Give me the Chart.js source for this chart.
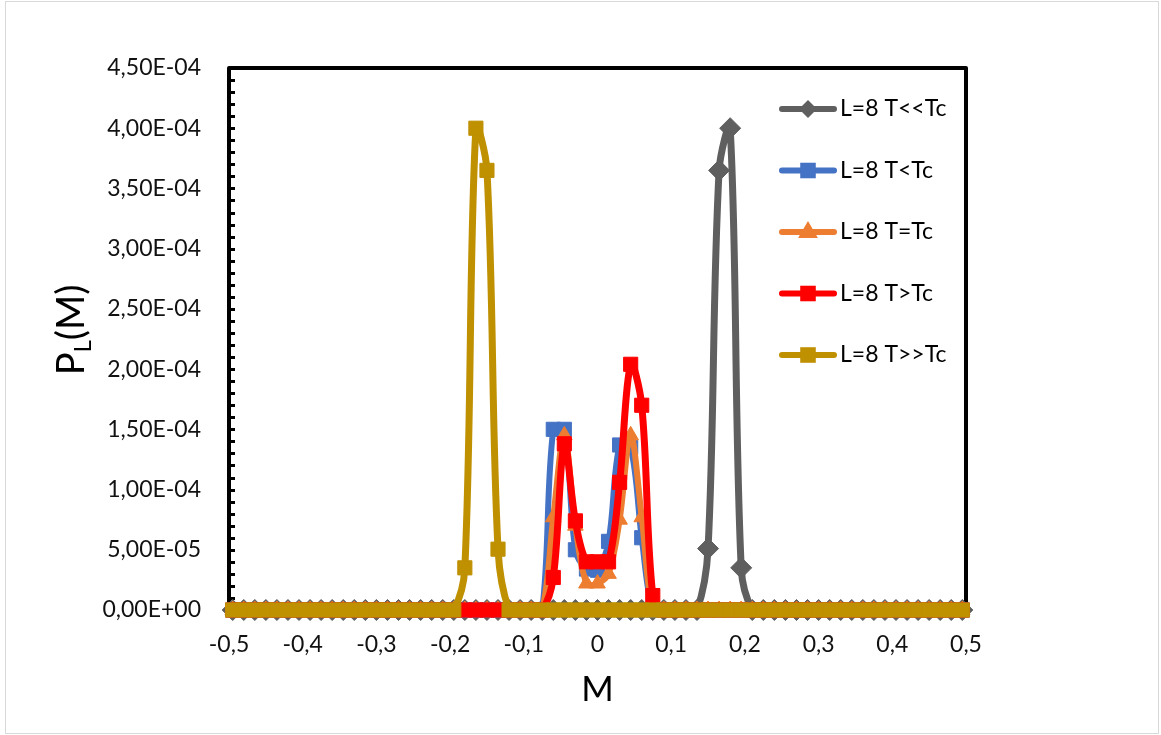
<!DOCTYPE html>
<html>
<head>
<meta charset="utf-8">
<script src="https://cdn.jsdelivr.net/npm/chart.js@4.4.1/dist/chart.umd.min.js"></script>
<style>
  html, body { margin: 0; padding: 0; background: #fff; }
  #wrap { width: 1161px; height: 735px; }
</style>
</head>
<body>
<div id="wrap"><canvas id="chart" width="1161" height="735"></canvas></div>
<script>
// magnetisation per site (x axis)
const mValues = [
  -0.495, -0.48, -0.465, -0.45, -0.435, -0.42, -0.405, -0.39, -0.375, -0.36,
  -0.345, -0.33, -0.315, -0.3, -0.285, -0.27, -0.255, -0.24, -0.225, -0.21,
  -0.195, -0.18, -0.165, -0.15, -0.135, -0.12, -0.105, -0.09, -0.075, -0.06,
  -0.045, -0.03, -0.015, 0, 0.015, 0.03, 0.045, 0.06, 0.075, 0.09,
  0.105, 0.12, 0.135, 0.15, 0.165, 0.18, 0.195, 0.21, 0.225, 0.24,
  0.255, 0.27, 0.285, 0.3, 0.315, 0.33, 0.345, 0.36, 0.375, 0.39,
  0.405, 0.42, 0.435, 0.45, 0.465, 0.48, 0.495
];

const pMuchBelow = [
  0, 0, 0, 0, 0, 0, 0, 0, 0, 0,
  0, 0, 0, 0, 0, 0, 0, 0, 0, 0,
  0, 0, 0, 0, 0, 0, 0, 0, 0, 0,
  0, 0, 0, 0, 0, 0, 0, 0, 0, 0,
  0, 0, 0, 5.1e-5, 3.65e-4, 4.0e-4, 3.5e-5, 0, 0, 0,
  0, 0, 0, 0, 0, 0, 0, 0, 0, 0,
  0, 0, 0, 0, 0, 0, 0
];

const pBelow = [
  0, 0, 0, 0, 0, 0, 0, 0, 0, 0,
  0, 0, 0, 0, 0, 0, 0, 0, 0, 0,
  0, 0, 0, 0, 0, 0, 0, 0, 0, 1.5e-4,
  1.5e-4, 5.0e-5, 3.4e-5, 3.3e-5, 5.7e-5, 1.37e-4, 1.35e-4, 6.0e-5, 0, 0,
  0, 0, 0, 0, 0, 0, 0, 0, 0, 0,
  0, 0, 0, 0, 0, 0, 0, 0, 0, 0,
  0, 0, 0, 0, 0, 0, 0
];

const pCritical = [
  0, 0, 0, 0, 0, 0, 0, 0, 0, 0,
  0, 0, 0, 0, 0, 0, 0, 0, 0, 0,
  0, 0, 0, 0, 0, 0, 0, 0, 0, 7.7e-5,
  1.45e-4, 7.0e-5, 2.2e-5, 2.2e-5, 3.0e-5, 7.5e-5, 1.45e-4, 7.7e-5, 0, 0,
  0, 0, 0, 0, 0, 0, 0, 0, 0, 0,
  0, 0, 0, 0, 0, 0, 0, 0, 0, 0,
  0, 0, 0, 0, 0, 0, 0
];

const pAbove = [
  0, 0, 0, 0, 0, 0, 0, 0, 0, 0,
  0, 0, 0, 0, 0, 0, 0, 0, 0, 0,
  0, 0, 0, 0, 0, 0, 0, 0, 0, 2.7e-5,
  1.38e-4, 7.4e-5, 4.0e-5, 4.0e-5, 4.0e-5, 1.06e-4, 2.04e-4, 1.70e-4, 1.2e-5, 0,
  0, 0, 0, 0, 0, 0, 0, 0, 0, 0,
  0, 0, 0, 0, 0, 0, 0, 0, 0, 0,
  0, 0, 0, 0, 0, 0, 0
];

const pMuchAbove = [
  0, 0, 0, 0, 0, 0, 0, 0, 0, 0,
  0, 0, 0, 0, 0, 0, 0, 0, 0, 0,
  0, 3.5e-5, 4.0e-4, 3.65e-4, 5.05e-5, 0, 0, 0, 0, 0,
  0, 0, 0, 0, 0, 0, 0, 0, 0, 0,
  0, 0, 0, 0, 0, 0, 0, 0, 0, 0,
  0, 0, 0, 0, 0, 0, 0, 0, 0, 0,
  0, 0, 0, 0, 0, 0, 0
];

const seriesLabels = ['L=8 T<<Tc', 'L=8 T<Tc', 'L=8 T=Tc', 'L=8 T>Tc', 'L=8 T>>Tc'];
const seriesColors = ['#5f5f5f', '#4472c4', '#ed7d31', '#ff0000', '#bf9000'];
const seriesMarkers = ['rectRot', 'rect', 'triangle', 'rect', 'rect'];
const seriesValues = [pMuchBelow, pBelow, pCritical, pAbove, pMuchAbove];

const FONT = 'Lato';
Chart.defaults.font.family = FONT;

function sciLabel(v) {
  const parts = Number(v).toExponential(2).split('e');
  const exp = parseInt(parts[1], 10);
  const sign = exp < 0 ? '-' : '+';
  const e = String(Math.abs(exp)).padStart(2, '0');
  return parts[0].replace('.', ',') + 'E' + sign + e;
}

function xLabel(v) {
  if (Math.abs(v) < 1e-9) return '0';
  return v.toFixed(1).replace('.', ',');
}

function marker(ctx, style, x, y, r) {
  ctx.beginPath();
  if (style === 'rectRot') {
    ctx.moveTo(x, y - r); ctx.lineTo(x + r, y); ctx.lineTo(x, y + r); ctx.lineTo(x - r, y);
  } else if (style === 'triangle') {
    ctx.moveTo(x, y - r); ctx.lineTo(x + r * 0.9, y + r * 0.55); ctx.lineTo(x - r * 0.9, y + r * 0.55);
  } else {
    const h = r * Math.SQRT1_2;
    ctx.rect(x - h, y - h, 2 * h, 2 * h);
  }
  ctx.closePath();
  ctx.fill();
}

const decorPlugin = {
  id: 'decor',
  beforeDraw(chart) {
    const ctx = chart.ctx;
    ctx.save();
    ctx.fillStyle = '#fff';
    ctx.fillRect(0, 0, chart.width, chart.height);
    ctx.strokeStyle = '#d9d9d9';
    ctx.lineWidth = 1;
    ctx.strokeRect(5.5, 1.5, chart.width - 8, chart.height - 3);
    ctx.restore();
  },
  beforeDatasetsDraw(chart) {
    const { ctx, chartArea: a, scales } = chart;
    ctx.save();
    ctx.strokeStyle = '#000';
    ctx.lineWidth = 4;
    ctx.lineJoin = 'round';
    ctx.strokeRect(a.left, a.top, a.right - a.left, a.bottom - a.top);
    // minor ticks on the left axis
    ctx.lineWidth = 3;
    const y = scales.y;
    for (let v = 0; v <= 4.5e-4 + 1e-12; v += 1e-5) {
      const py = Math.round(y.getPixelForValue(v)) + 0.5;
      ctx.beginPath();
      ctx.moveTo(a.left, py);
      ctx.lineTo(a.left + 6, py);
      ctx.stroke();
    }
    ctx.restore();
  },
  afterDraw(chart) {
    const { ctx, chartArea: a } = chart;
    ctx.save();
    ctx.fillStyle = '#000';
    // x axis title
    ctx.font = '35px ' + FONT;
    ctx.textAlign = 'center';
    ctx.textBaseline = 'middle';
    ctx.fillText('M', (a.left + a.right) / 2, 690);
    // y axis title with subscript
    ctx.translate(72, 330);
    ctx.rotate(-Math.PI / 2);
    ctx.textAlign = 'left';
    ctx.textBaseline = 'middle';
    const big = '38px ' + FONT, small = '24px ' + FONT;
    ctx.font = big; const wP = ctx.measureText('P').width;
    const wM = ctx.measureText('(M)').width;
    ctx.font = small; const wL = ctx.measureText('L').width;
    let x = -(wP + wL + wM) / 2;
    ctx.font = big; ctx.fillText('P', x, 0); x += wP;
    ctx.font = small; ctx.fillText('L', x, 11); x += wL;
    ctx.font = big; ctx.fillText('(M)', x, 0);
    ctx.restore();

    // legend
    ctx.save();
    ctx.font = '23px ' + FONT;
    ctx.textBaseline = 'middle';
    ctx.textAlign = 'left';
    seriesLabels.forEach((lab, i) => {
      const ly = 109 + i * 61.5;
      ctx.strokeStyle = seriesColors[i];
      ctx.fillStyle = seriesColors[i];
      ctx.lineWidth = 6;
      ctx.lineCap = 'round';
      ctx.beginPath();
      ctx.moveTo(782, ly);
      ctx.lineTo(834, ly);
      ctx.stroke();
      marker(ctx, seriesMarkers[i], 808, ly, seriesMarkers[i] === 'rectRot' ? 9 : 11);
      ctx.fillStyle = '#000';
      ctx.fillText(lab, 840, ly);
    });
    ctx.restore();
  }
};

const drawOrder = [4, 3, 2, 1, 0];
const datasets = seriesValues.map((vals, i) => ({
  label: seriesLabels[i],
  data: mValues.map((m, k) => ({ x: m, y: vals[k] })),
  borderColor: seriesColors[i],
  backgroundColor: seriesColors[i],
  borderWidth: i === 3 || i === 4 || i === 0 ? 7 : 6,
  tension: 0.35,
  pointStyle: seriesMarkers[i],
  pointRadius: seriesMarkers[i] === 'rectRot' ? 10.5 : (seriesMarkers[i] === 'triangle' ? 9 : 10),
  pointBorderWidth: 1,
  pointBackgroundColor: seriesColors[i],
  pointBorderColor: seriesColors[i],
  pointHoverRadius: 0,
  clip: false,
  order: drawOrder[i]
}));

new Chart(document.getElementById('chart'), {
  type: 'line',
  data: { datasets },
  options: {
    responsive: false,
    animation: false,
    events: [],
    layout: { padding: { top: 68, right: 195, left: 0, bottom: 0 } },
    plugins: { legend: { display: false }, tooltip: { enabled: false } },
    scales: {
      x: {
        type: 'linear',
        min: -0.5,
        max: 0.5,
        afterFit(s) { s.height = 125; },
        grid: { display: false, drawTicks: false },
        border: { display: false },
        ticks: {
          stepSize: 0.1,
          padding: 21,
          color: '#111',
          font: { size: 23 },
          callback: (v) => xLabel(v)
        }
      },
      y: {
        min: 0,
        max: 4.5e-4,
        afterFit(s) { s.width = 229; },
        grid: { display: false, drawTicks: false },
        border: { display: false },
        ticks: {
          stepSize: 5e-5,
          padding: 28,
          color: '#111',
          font: { size: 23 },
          callback: (v) => sciLabel(v)
        }
      }
    }
  },
  plugins: [decorPlugin]
});
</script>
</body>
</html>
